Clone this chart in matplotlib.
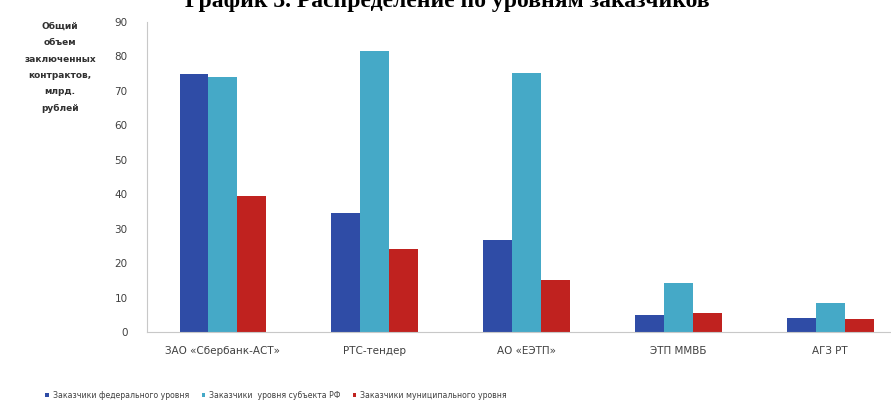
import numpy as np
import matplotlib
matplotlib.use("Agg")
import matplotlib.pyplot as plt

# Data
platforms = ["ЗАО «Сбербанк-АСТ»", "РТС-тендер", "АО «ЕЭТП»", "ЭТП ММВБ", "АГЗ РТ"]
federal = [75.0, 34.5, 26.7, 5.0, 4.0]
regional = [74.0, 81.5, 75.3, 14.2, 8.4]
municipal = [39.5, 24.1, 15.1, 5.4, 3.8]
series_names = [
    "Заказчики федерального уровня",
    "Заказчики  уровня субъекта РФ",
    "Заказчики муниципального уровня",
]
yticks = [0, 10, 20, 30, 40, 50, 60, 70, 80, 90]

colors = ["#2F4CA6", "#45A9C7", "#C0221F"]

fig = plt.figure(figsize=(8.91, 4.16), dpi=100)
ax = fig.add_axes([147 / 891, 84 / 416, (891 - 147) / 891, 310 / 416])

x = np.arange(len(platforms))
w = 0.19
for i, (vals, name) in enumerate(zip([federal, regional, municipal], series_names)):
    ax.bar(x + (i - 1) * w, vals, width=w, color=colors[i], label=name, zorder=2)

ax.set_xlim(-0.5, 4.4)
ax.set_ylim(0, 90)
ax.set_yticks(yticks)
ax.set_xticks(x)
ax.set_xticklabels(platforms)
ax.tick_params(axis="both", length=0, labelsize=7.5, colors="#404040")
ax.tick_params(axis="y", pad=14)
ax.tick_params(axis="x", pad=10)
for s in ["top", "right"]:
    ax.spines[s].set_visible(False)
ax.spines["left"].set_color("#C8C8C8")
ax.spines["bottom"].set_color("#C8C8C8")

# y-axis caption to the left
fig.text(60 / 891, 1 - 22 / 416, "Общий\nобъем\nзаключенных\nконтрактов,\nмлрд.\nрублей",
         ha="center", va="top", fontsize=6.5, fontweight="bold", color="#303030",
         linespacing=2.05)

# title, cut by the top edge as in the source image
fig.text(185 / 891, 1 - 7 / 416, "График 3. Распределение по уровням заказчиков",
         ha="left", va="baseline", fontsize=17, fontweight="bold",
         family="Liberation Serif", color="black")

leg = fig.legend(loc="center", bbox_to_anchor=(0.31, 1 - 395 / 416), ncol=3,
                 frameon=False, fontsize=5.6, handlelength=0.45, handleheight=0.45,
                 columnspacing=1.6, handletextpad=0.5)
for t in leg.get_texts():
    t.set_color("#404040")

plt.savefig("out.png", dpi=100)
plt.close()
